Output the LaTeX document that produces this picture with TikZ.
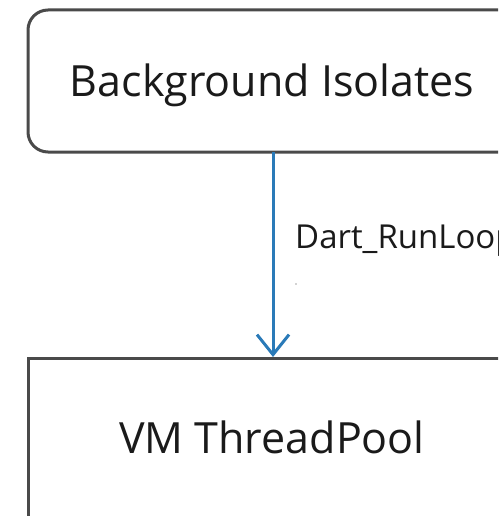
\documentclass[tikz,border=0pt]{standalone}
\usepackage{fontspec}
\setmainfont{Open Sans}
\usetikzlibrary{arrows.meta}
\definecolor{boxline}{HTML}{4A4A4A}
\definecolor{flowblue}{HTML}{2A7AB8}
\definecolor{txt}{HTML}{1A1A1A}
\tikzset{
  x=1pt, y=-1pt,
  roundbox/.style={draw=boxline, line width=3pt, rounded corners=20pt},
  plainbox/.style={draw=boxline, line width=3pt},
  boxtext/.style={text=txt, font=\fontsize{43}{50}\selectfont, anchor=base, inner sep=0pt},
  flowlabel/.style={text=txt, font=\fontsize{33}{38}\selectfont, anchor=base west, inner sep=0pt},
  flow/.style={draw=flowblue, line width=3pt, -{Straight Barb[length=20pt,width=32pt,line width=3pt]}}
}
\begin{document}
\begin{tikzpicture}
\useasboundingbox (0,0) rectangle (498,516);
\clip (0,0) rectangle (498,516);
\fill[white] (0,0) rectangle (498,516);
% upper process box, running off the right edge
\draw[roundbox] (28,10) rectangle (580,152);
\node[boxtext] (bg) at (272,97) {Background Isolates};
% lower pool box, running off the right and bottom edges
\draw[plainbox] (28,358) rectangle (580,600);
\node[boxtext] (vm) at (272,453) {VM ThreadPool};
\coordinate (src) at (273,152);
\coordinate (dst) at (273,357);
\draw[flow] (src) -- (dst);
\node[flowlabel] (lbl) at (295,248) {Dart\_RunLoop};
\fill[gray!70] (296,284) circle (0.8pt);
\end{tikzpicture}
\end{document}
